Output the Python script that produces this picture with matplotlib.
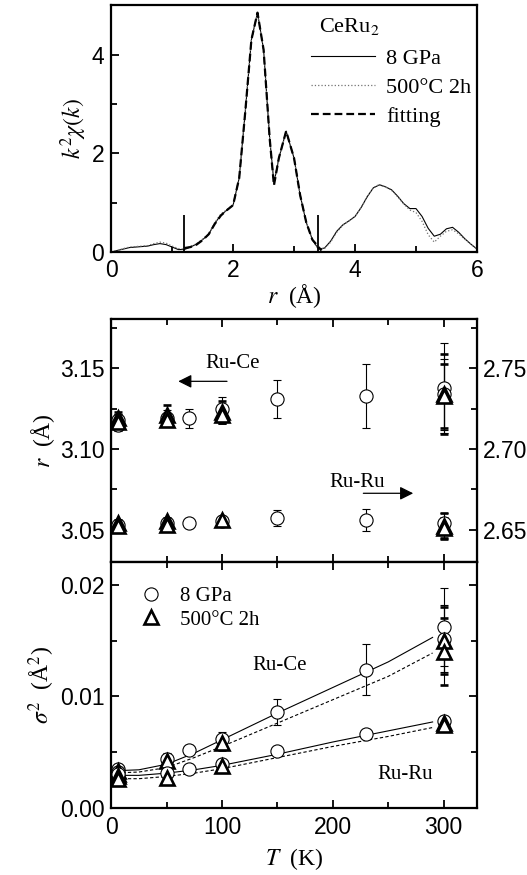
import numpy as np
import matplotlib.pyplot as plt
from matplotlib.ticker import MultipleLocator

plt.rcParams['font.family'] = ['Liberation Sans', 'DejaVu Sans']
plt.rcParams['mathtext.fontset'] = 'stix'
SERIF = ['Liberation Serif', 'DejaVu Serif']

# --- top: Fourier transform of EXAFS, CeRu2 ---
r_ft = [0.0, 0.1, 0.2, 0.3, 0.4, 0.5, 0.6, 0.7, 0.8, 0.9, 1.0, 1.1, 1.2, 1.3, 1.4,
        1.5, 1.6, 1.7, 1.8, 1.9, 2.0, 2.1, 2.2, 2.3, 2.4, 2.5, 2.6, 2.67, 2.75, 2.87,
        3.0, 3.1, 3.2, 3.3, 3.4, 3.5, 3.6, 3.7, 3.8, 3.9, 4.0, 4.1, 4.2, 4.3, 4.4,
        4.5, 4.6, 4.7, 4.8, 4.9, 5.0, 5.1, 5.2, 5.3, 5.4, 5.5, 5.6, 5.7, 5.8, 5.9, 6.0]
ft_8gpa = [0.00, 0.03, 0.06, 0.09, 0.10, 0.11, 0.12, 0.15, 0.17, 0.15, 0.10, 0.05, 0.05, 0.10, 0.16,
           0.25, 0.36, 0.58, 0.75, 0.85, 0.95, 1.5, 2.85, 4.3, 4.85, 4.1, 2.3, 1.4, 1.9, 2.45,
           1.9, 1.15, 0.6, 0.25, 0.06, 0.08, 0.22, 0.42, 0.55, 0.63, 0.72, 0.9, 1.12, 1.3, 1.36,
           1.32, 1.26, 1.13, 0.98, 0.88, 0.88, 0.72, 0.48, 0.32, 0.36, 0.47, 0.50, 0.40, 0.27, 0.16, 0.06]
ft_500c = [0.00, 0.03, 0.07, 0.10, 0.11, 0.12, 0.13, 0.17, 0.20, 0.18, 0.12, 0.07, 0.06, 0.11, 0.17,
           0.26, 0.37, 0.60, 0.77, 0.86, 0.96, 1.5, 2.85, 4.3, 4.83, 4.1, 2.3, 1.35, 1.9, 2.43,
           1.9, 1.15, 0.6, 0.25, 0.06, 0.07, 0.20, 0.40, 0.54, 0.63, 0.72, 0.9, 1.12, 1.3, 1.37,
           1.32, 1.25, 1.12, 0.97, 0.85, 0.80, 0.62, 0.35, 0.20, 0.32, 0.42, 0.45, 0.37, 0.26, 0.16, 0.06]
r_fit = [1.2, 1.3, 1.4, 1.5, 1.6, 1.7, 1.8, 1.9, 2.0, 2.1, 2.2, 2.3, 2.4, 2.5, 2.6,
         2.67, 2.75, 2.87, 3.0, 3.1, 3.2, 3.3, 3.45]
ft_fit = [0.08, 0.10, 0.15, 0.24, 0.36, 0.57, 0.74, 0.85, 0.95, 1.5, 2.85, 4.3, 4.85, 4.1, 2.3,
          1.35, 1.9, 2.45, 1.9, 1.15, 0.6, 0.25, 0.03]
fit_window = [1.2, 3.4]

# --- middle: bond lengths vs T ---
T_ce_c = [6, 6, 50, 70, 100, 150, 230, 300, 300]
r_ce_c = [3.115, 3.118, 3.119, 3.119, 3.125, 3.131, 3.133, 3.138, 3.134]
e_ce_c = [0.004, 0.004, 0.005, 0.006, 0.007, 0.012, 0.020, 0.028, 0.022]
T_ce_t = [6, 6, 50, 50, 100, 100, 300, 300]
r_ce_t = [3.119, 3.117, 3.121, 3.118, 3.123, 3.121, 3.134, 3.133]
e_ce_t = [0.004, 0.004, 0.006, 0.004, 0.007, 0.005, 0.025, 0.020]
T_ru_c = [6, 50, 70, 100, 150, 230, 300]
r_ru_c = [2.653, 2.654, 2.654, 2.655, 2.657, 2.656, 2.654]
e_ru_c = [0.002, 0.002, 0.002, 0.002, 0.005, 0.007, 0.006]
T_ru_t = [6, 6, 50, 50, 100, 300, 300]
r_ru_t = [2.654, 2.652, 2.655, 2.653, 2.656, 2.652, 2.651]
e_ru_t = [0.002, 0.002, 0.002, 0.002, 0.002, 0.008, 0.006]

# --- bottom: Debye-Waller factors vs T ---
T_s_ce_c = [6, 6, 50, 70, 100, 150, 230, 300, 300]
s_ce_c = [0.0035, 0.0032, 0.0044, 0.0052, 0.0062, 0.0086, 0.0124, 0.0162, 0.0152]
es_ce_c = [0.0004, 0.0004, 0.0005, 0.0004, 0.0006, 0.0012, 0.0023, 0.0035, 0.0030]
T_s_ce_t = [6, 6, 50, 100, 300, 300]
s_ce_t = [0.0033, 0.0030, 0.0042, 0.0058, 0.0150, 0.0140]
es_ce_t = [0.0004, 0.0004, 0.0005, 0.0006, 0.0030, 0.0030]
T_s_ru_c = [6, 50, 70, 100, 150, 230, 300]
s_ru_c = [0.0030, 0.0031, 0.0035, 0.0039, 0.0051, 0.0066, 0.0078]
es_ru_c = [0.0003, 0.0003, 0.0003, 0.0003, 0.0003, 0.0003, 0.0004]
T_s_ru_t = [6, 6, 50, 100, 300, 300]
s_ru_t = [0.0028, 0.0026, 0.0027, 0.0037, 0.0076, 0.0074]
es_ru_t = [0.0004, 0.0004, 0.0004, 0.0004, 0.0004, 0.0004]

T_model = [0, 25, 50, 75, 100, 150, 200, 250, 290]
fit_ce_c = [0.0033, 0.0034, 0.0039, 0.0049, 0.0061, 0.0085, 0.0108, 0.0131, 0.0153]
fit_ce_t = [0.0031, 0.0032, 0.0036, 0.0045, 0.0055, 0.0076, 0.0097, 0.0118, 0.0139]
fit_ru_c = [0.0029, 0.0029, 0.0031, 0.0034, 0.0038, 0.0048, 0.0059, 0.0069, 0.0077]
fit_ru_t = [0.0026, 0.0026, 0.0028, 0.0031, 0.0035, 0.0045, 0.0055, 0.0064, 0.0072]

fig = plt.figure(figsize=(5.27, 8.75), dpi=100)
ax1 = fig.add_axes([0.211, 0.712, 0.694, 0.282])
ax2 = fig.add_axes([0.211, 0.358, 0.694, 0.278])
ax3 = fig.add_axes([0.211, 0.077, 0.694, 0.281], sharex=ax2)

TICK_FS = 16.5
for ax in (ax1, ax2, ax3):
    for s in ax.spines.values():
        s.set_linewidth(1.6)
    ax.tick_params(which='both', direction='in', width=1.3, labelsize=TICK_FS)
    ax.tick_params(which='major', length=6, pad=5)
    ax.tick_params(which='minor', length=4)

# top panel
ax1.plot(r_ft, ft_8gpa, color='black', lw=0.8, label='8 GPa')
ax1.plot(r_ft, ft_500c, color='0.45', lw=0.9, ls=':', label='500°C 2h')
ax1.plot(r_fit, ft_fit, color='black', lw=1.6, ls=(0, (3.5, 1.8)), label='fitting')
ax1.vlines(fit_window, 0, 0.75, color='black', lw=1.3)
ax1.set_xlim(0, 6)
ax1.set_ylim(0, 5)
ax1.xaxis.set_major_locator(MultipleLocator(2))
ax1.xaxis.set_minor_locator(MultipleLocator(1))
ax1.yaxis.set_major_locator(MultipleLocator(2))
ax1.yaxis.set_minor_locator(MultipleLocator(1))
ax1.set_xlabel(r'$r$  (Å)', fontsize=17, family=SERIF, labelpad=0)
ax1.set_ylabel(r'$k^2\chi(k)$', fontsize=17, family=SERIF, labelpad=2)
ax1.text(0.65, 0.915, r'CeRu$_2$', transform=ax1.transAxes, fontsize=16,
         family=SERIF, ha='center', va='center')
ax1.legend(loc='upper left', bbox_to_anchor=(0.545, 0.825), frameon=False,
           prop={'family': SERIF, 'size': 16}, handlelength=2.9,
           handletextpad=0.5, labelspacing=0.38, borderpad=0, borderaxespad=0)

# middle panel
mk = dict(ls='none', color='black', ecolor='black', elinewidth=0.8, capsize=3, capthick=0.8)
ax2.errorbar(T_ce_c, r_ce_c, yerr=e_ce_c, marker='o', ms=9.5, mfc='white', mew=0.8, **mk)
ax2.errorbar(T_ce_t, r_ce_t, yerr=e_ce_t, marker='^', ms=9.5, mfc='white', mew=1.9, **mk)
ax2.set_ylim(3.030, 3.181)
ax2.yaxis.set_major_locator(MultipleLocator(0.05))
ax2.yaxis.set_minor_locator(MultipleLocator(0.025))
ax2.yaxis.set_major_formatter('{x:.2f}')
ax2.tick_params(which='both', top=True, labelbottom=False)
ax2.set_ylabel(r'$r$  (Å)', fontsize=17, family=SERIF, labelpad=2)

ax2r = ax2.twinx()
ax2r.errorbar(T_ru_c, r_ru_c, yerr=e_ru_c, marker='o', ms=9.5, mfc='white', mew=0.8, **mk)
ax2r.errorbar(T_ru_t, r_ru_t, yerr=e_ru_t, marker='^', ms=9.5, mfc='white', mew=1.9, **mk)
ax2r.set_ylim(2.630, 2.781)
ax2r.yaxis.set_major_locator(MultipleLocator(0.05))
ax2r.yaxis.set_minor_locator(MultipleLocator(0.025))
ax2r.yaxis.set_major_formatter('{x:.2f}')
ax2r.tick_params(which='both', direction='in', width=1.3, labelsize=TICK_FS)
ax2r.tick_params(which='major', length=6, pad=4)
ax2r.tick_params(which='minor', length=4)

ax2.text(110, 3.153, 'Ru-Ce', fontsize=15, family=SERIF, ha='center', va='center')
ax2.annotate('', xy=(58, 3.142), xytext=(107, 3.142),
             arrowprops=dict(arrowstyle='-|>', color='black', lw=0.9, mutation_scale=20))
ax2.text(222, 3.079, 'Ru-Ru', fontsize=15, family=SERIF, ha='center', va='center')
ax2.annotate('', xy=(275, 3.0725), xytext=(225, 3.0725),
             arrowprops=dict(arrowstyle='-|>', color='black', lw=0.9, mutation_scale=20))

# bottom panel
ax3.plot(T_model, fit_ce_c, color='black', lw=0.8)
ax3.plot(T_model, fit_ce_t, color='black', lw=0.8, ls=(0, (3, 2)))
ax3.plot(T_model, fit_ru_c, color='black', lw=0.8)
ax3.plot(T_model, fit_ru_t, color='black', lw=0.8, ls=(0, (3, 2)))
hc = ax3.errorbar(T_s_ce_c, s_ce_c, yerr=es_ce_c, marker='o', ms=9.5, mfc='white', mew=0.8, **mk)
ht = ax3.errorbar(T_s_ce_t, s_ce_t, yerr=es_ce_t, marker='^', ms=9.5, mfc='white', mew=1.9, **mk)
ax3.errorbar(T_s_ru_c, s_ru_c, yerr=es_ru_c, marker='o', ms=9.5, mfc='white', mew=0.8, **mk)
ax3.errorbar(T_s_ru_t, s_ru_t, yerr=es_ru_t, marker='^', ms=9.5, mfc='white', mew=1.9, **mk)
ax3.set_xlim(0, 330)
ax3.set_ylim(0, 0.0221)
ax3.xaxis.set_major_locator(MultipleLocator(100))
ax3.xaxis.set_minor_locator(MultipleLocator(50))
ax3.yaxis.set_major_locator(MultipleLocator(0.01))
ax3.yaxis.set_minor_locator(MultipleLocator(0.005))
ax3.yaxis.set_major_formatter('{x:.2f}')
ax3.tick_params(which='both', top=True, right=True)
ax3.tick_params(axis='x', which='major', pad=6)
ax3.set_xlabel(r'$T$  (K)', fontsize=17, family=SERIF, labelpad=5)
ax3.set_ylabel(r'$\sigma^2$  (Å$^2$)', fontsize=17, family=SERIF, labelpad=2)
ax3.text(152, 0.0128, 'Ru-Ce', fontsize=15, family=SERIF, ha='center', va='center')
ax3.text(265, 0.0030, 'Ru-Ru', fontsize=15, family=SERIF, ha='center', va='center')
ax3.legend([hc[0], ht[0]], ['8 GPa', '500°C 2h'], loc='upper left',
           bbox_to_anchor=(0.075, 0.9), frameon=False, numpoints=1,
           prop={'family': SERIF, 'size': 15}, handlelength=1.2,
           handletextpad=0.8, labelspacing=0.2, borderpad=0, borderaxespad=0)

fig.savefig('out.png', dpi=100)
